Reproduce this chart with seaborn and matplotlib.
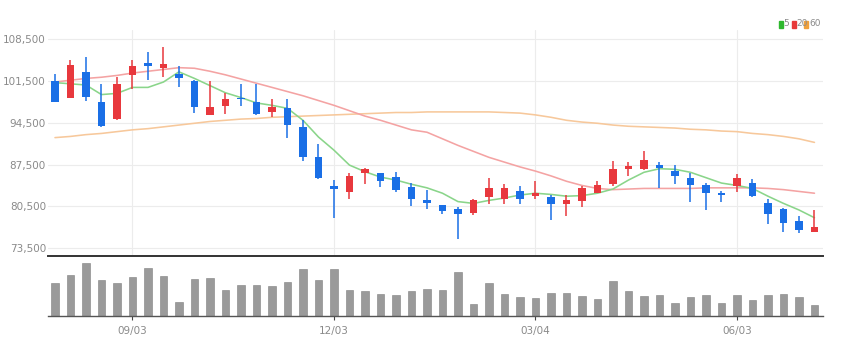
import numpy as np
import pandas as pd
import matplotlib
matplotlib.use("Agg")
import matplotlib.pyplot as plt
import seaborn as sns
from matplotlib.ticker import FuncFormatter, FixedLocator
from matplotlib.patches import Rectangle

# ---------------- data (weekly candles) ----------------
opens = [101500, 98700, 103000, 98000, 95100, 102500, 104500, 103600, 102600, 101500,
         95800, 97300, 98700, 98000, 96300, 96900, 93700, 88700, 83900, 82900,
         86100, 86000, 85400, 83800, 81500, 80700, 80100, 79400, 82000, 81800,
         83100, 82300, 82000, 80900, 81400, 82800, 84200, 86800, 86700, 87400,
         86400, 85300, 84100, 82800, 83900, 84400, 81000, 80100, 78100, 76200]
closes = [98000, 104100, 98800, 93900, 101000, 103900, 104000, 104300, 102000, 97200,
          97200, 98400, 98400, 95900, 97200, 94100, 88700, 85200, 83400, 85600,
          86700, 84800, 83300, 81800, 81100, 79700, 79300, 81500, 83500, 83500,
          81800, 82700, 80900, 81500, 83500, 84100, 86800, 87200, 88200, 86900,
          85600, 84100, 82800, 82400, 85200, 82200, 79200, 77700, 76500, 77100]
highs = [102600, 105000, 105500, 101000, 102100, 105000, 106400, 107100, 103900, 101600,
         101500, 99500, 101000, 101000, 98400, 98400, 94900, 91000, 84900, 86000,
         86900, 86100, 86300, 84400, 83200, 80800, 80400, 81800, 85300, 84200,
         83900, 84800, 82400, 82400, 83900, 84800, 88100, 88000, 89800, 88000,
         87400, 86100, 84400, 83100, 85900, 85000, 81800, 80300, 78900, 79900]
lows = [97900, 98600, 98100, 93800, 95000, 100100, 101600, 102200, 100500, 96200,
        95700, 95900, 97300, 95800, 95400, 92000, 88100, 85100, 78500, 81700,
        84300, 83700, 82900, 80500, 80100, 79300, 75100, 79000, 80900, 80900,
        80900, 81700, 78300, 78900, 80400, 83200, 83900, 85600, 86600, 83500,
        84300, 81300, 79900, 81300, 82900, 82100, 77500, 76200, 76100, 76200]
ma5 = [101200, 101000, 100800, 99200, 99400, 100400, 100400, 101300, 103000, 101900,
       100700, 99500, 98700, 97800, 97400, 96900, 94900, 92100, 89900, 87400,
       86300, 85400, 84900, 84200, 83600, 82700, 81300, 81000, 81500, 81900,
       82400, 82700, 82500, 82200, 82300, 82700, 83400, 84900, 86200, 86800,
       86700, 86200, 85300, 84400, 84000, 83500, 82200, 81000, 79900, 78600]
ma20 = [101300, 101600, 101900, 102100, 102400, 102800, 103100, 103400, 103700, 103600,
        103100, 102500, 101800, 101100, 100400, 99700, 99000, 98200, 97400, 96500,
        95600, 94900, 94100, 93300, 92900, 91800, 90700, 89700, 88700, 87900,
        87100, 86400, 85600, 84700, 84000, 83500, 83300, 83400, 83500, 83500,
        83500, 83500, 83600, 83600, 83600, 83600, 83500, 83300, 83000, 82700]
ma60 = [92000, 92200, 92500, 92700, 93000, 93300, 93500, 93800, 94100, 94400,
        94700, 94900, 95100, 95200, 95400, 95500, 95600, 95700, 95800, 95900,
        96000, 96100, 96200, 96200, 96300, 96300, 96300, 96300, 96300, 96200,
        96100, 95800, 95400, 94900, 94600, 94400, 94100, 93900, 93800, 93700,
        93600, 93400, 93300, 93100, 93000, 92700, 92500, 92200, 91800, 91200]
volumes = [337000, 417000, 537000, 370000, 337000, 400000, 493000, 410000, 143000, 377000,
           383000, 260000, 317000, 317000, 303000, 350000, 483000, 370000, 477000, 260000,
           250000, 227000, 217000, 250000, 277000, 260000, 443000, 117000, 337000, 227000,
           193000, 183000, 233000, 233000, 203000, 170000, 353000, 253000, 203000, 217000,
           137000, 190000, 217000, 137000, 210000, 160000, 217000, 227000, 193000, 110000]
tick_pos = [5, 18, 31, 44]
tick_labels = ["09/03", "12/03", "03/04", "06/03"]
y_ticks = [73500, 80500, 87500, 94500, 101500, 108500]
legend_labels = ["5", "20", "60"]

# ---------------- styling ----------------
RED = "#e8383d"
BLUE = "#1a6fe6"
C_MA5 = "#8ad58a"
C_MA20 = "#f4a3a3"
C_MA60 = "#f7c89b"
LEG = ["#2eb82e", "#e83a3a", "#f0a03a"]
GRAY_TXT = "#8a8a8a"

sns.set_theme(style="white")
plt.rcParams["font.family"] = ["Liberation Sans Narrow", "DejaVu Sans"]

n = len(opens)
df = pd.DataFrame({
    "idx": np.arange(n),
    "open": opens, "close": closes, "high": highs, "low": lows,
    "ma5": ma5, "ma20": ma20, "ma60": ma60, "vol": volumes,
})
df["up"] = df["close"] >= df["open"]

W, H = 843, 355
fig = plt.figure(figsize=(W / 100, H / 100), dpi=100)
ax = fig.add_axes([48 / W, 1 - 256 / H, 775 / W, 226 / H])
axv = fig.add_axes([48 / W, 1 - 316 / H, 775 / W, 58 / H])

# ---- price panel ----
ax.set_xlim(-0.45, n - 0.45)
ax.set_ylim(72200, 110000)
for y in y_ticks:
    ax.axhline(y, color="#ececec", lw=0.8, zorder=0)
for x in tick_pos:
    ax.axvline(x, color="#ececec", lw=0.8, zorder=0)

sns.lineplot(data=df, x="idx", y="ma60", ax=ax, color=C_MA60, lw=1.15, zorder=2)
sns.lineplot(data=df, x="idx", y="ma20", ax=ax, color=C_MA20, lw=1.15, zorder=2)
sns.lineplot(data=df, x="idx", y="ma5", ax=ax, color=C_MA5, lw=1.15, zorder=2)

colors = np.where(df["up"], RED, BLUE)
ax.vlines(df["idx"], df["low"], df["high"], colors=colors, lw=1.1, zorder=3)
raw = (df["close"] - df["open"]).abs()
body = np.maximum(raw, 220)
ax.bar(df["idx"], body, bottom=np.minimum(df["open"], df["close"]) - (body - raw) / 2,
       width=0.5, color=colors, linewidth=0, zorder=4)

ax.yaxis.set_major_locator(FixedLocator(y_ticks))
ax.yaxis.set_major_formatter(FuncFormatter(lambda v, p: f"{int(v):,}"))
ax.tick_params(axis="y", length=0, pad=1.5, labelsize=7.5, labelcolor=GRAY_TXT)
ax.set_xticks([])
ax.set_xlabel("")
ax.set_ylabel("")
for s in ["top", "right", "left"]:
    ax.spines[s].set_visible(False)
ax.spines["bottom"].set_color("#333333")
ax.spines["bottom"].set_linewidth(1.4)

# ---- volume panel ----
sns.barplot(data=df, x="idx", y="vol", ax=axv, color="#9a9a9a", width=0.5,
            edgecolor="#808080", linewidth=0.4, saturation=1)
axv.set_xlim(-0.45, n - 0.45)
axv.set_ylim(0, 590000)
axv.set_yticks([])
axv.set_xticks(tick_pos)
axv.set_xticklabels(tick_labels)
axv.tick_params(axis="x", length=3, width=0.8, color="#444444", pad=4,
                labelsize=7.5, labelcolor=GRAY_TXT, bottom=True)
axv.set_xlabel("")
axv.set_ylabel("")
for s in ["top", "right", "left"]:
    axv.spines[s].set_visible(False)
axv.spines["bottom"].set_color("#555555")
axv.spines["bottom"].set_linewidth(1.0)

# ---- legend ----
leg_x = [779, 792, 804]
txt_x = [783.5, 796.5, 809.5]
for lx, tx, c, lab in zip(leg_x, txt_x, LEG, legend_labels):
    fig.patches.append(Rectangle((lx / W, 1 - 27.5 / H), 3.5 / W, 6.5 / H,
                                 transform=fig.transFigure, color=c))
    fig.text(tx / W, 1 - 24 / H, lab, fontsize=6.5, color=GRAY_TXT,
             va="center", ha="left")

fig.savefig("out.png", dpi=100)
